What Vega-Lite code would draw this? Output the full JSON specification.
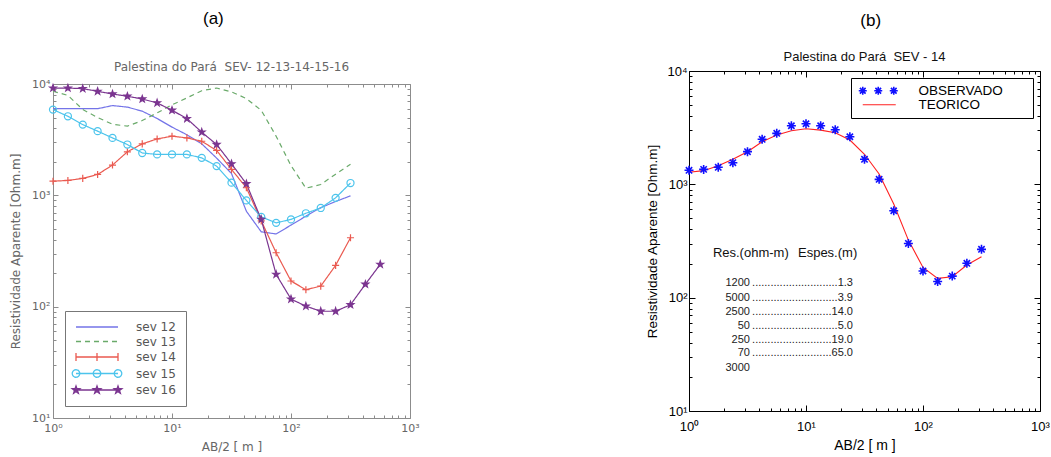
{
  "$schema": "https://vega.github.io/schema/vega-lite/v6.json",
  "background": "white",
  "padding": {"left": 9, "top": 9, "right": 0, "bottom": 0},
  "config": {"view": {"stroke": null}, "font": "Liberation Sans"},
  "spacing": 225,
  "resolve": {"scale": {"color": "independent"}, "legend": {"color": "independent"}},
  "datasets": {
    "sevs": [
      {"serie": "sev 12", "ab2": 1, "rho": 6000}, {"serie": "sev 12", "ab2": 1.334, "rho": 6000}, {"serie": "sev 12", "ab2": 1.778, "rho": 6000}, {"serie": "sev 12", "ab2": 2.371, "rho": 6000}, {"serie": "sev 12", "ab2": 3.162, "rho": 6400}, {"serie": "sev 12", "ab2": 4.217, "rho": 6200}, {"serie": "sev 12", "ab2": 5.623, "rho": 5700}, {"serie": "sev 12", "ab2": 7.499, "rho": 4900}, {"serie": "sev 12", "ab2": 10, "rho": 4100}, {"serie": "sev 12", "ab2": 13.34, "rho": 3500}, {"serie": "sev 12", "ab2": 17.78, "rho": 2900}, {"serie": "sev 12", "ab2": 23.71, "rho": 2160}, {"serie": "sev 12", "ab2": 31.62, "rho": 1570}, {"serie": "sev 12", "ab2": 42.17, "rho": 720}, {"serie": "sev 12", "ab2": 56.23, "rho": 470}, {"serie": "sev 12", "ab2": 74.99, "rho": 450}, {"serie": "sev 12", "ab2": 100, "rho": 540}, {"serie": "sev 12", "ab2": 133.4, "rho": 650}, {"serie": "sev 12", "ab2": 177.8, "rho": 775}, {"serie": "sev 12", "ab2": 237.1, "rho": 880}, {"serie": "sev 12", "ab2": 316.2, "rho": 990},
      {"serie": "sev 13", "ab2": 1, "rho": 8600}, {"serie": "sev 13", "ab2": 1.334, "rho": 7900}, {"serie": "sev 13", "ab2": 1.778, "rho": 5900}, {"serie": "sev 13", "ab2": 2.371, "rho": 5000}, {"serie": "sev 13", "ab2": 3.162, "rho": 4350}, {"serie": "sev 13", "ab2": 4.217, "rho": 4180}, {"serie": "sev 13", "ab2": 5.623, "rho": 4700}, {"serie": "sev 13", "ab2": 7.499, "rho": 5500}, {"serie": "sev 13", "ab2": 10, "rho": 6500}, {"serie": "sev 13", "ab2": 13.34, "rho": 7500}, {"serie": "sev 13", "ab2": 17.78, "rho": 8700}, {"serie": "sev 13", "ab2": 23.71, "rho": 9200}, {"serie": "sev 13", "ab2": 31.62, "rho": 8500}, {"serie": "sev 13", "ab2": 42.17, "rho": 7400}, {"serie": "sev 13", "ab2": 56.23, "rho": 5800}, {"serie": "sev 13", "ab2": 74.99, "rho": 3400}, {"serie": "sev 13", "ab2": 100, "rho": 1850}, {"serie": "sev 13", "ab2": 133.4, "rho": 1160}, {"serie": "sev 13", "ab2": 177.8, "rho": 1250}, {"serie": "sev 13", "ab2": 237.1, "rho": 1550}, {"serie": "sev 13", "ab2": 316.2, "rho": 1900},
      {"serie": "sev 14", "ab2": 1, "rho": 1340}, {"serie": "sev 14", "ab2": 1.334, "rho": 1360}, {"serie": "sev 14", "ab2": 1.778, "rho": 1420}, {"serie": "sev 14", "ab2": 2.371, "rho": 1540}, {"serie": "sev 14", "ab2": 3.162, "rho": 1870}, {"serie": "sev 14", "ab2": 4.217, "rho": 2460}, {"serie": "sev 14", "ab2": 5.623, "rho": 2900}, {"serie": "sev 14", "ab2": 7.499, "rho": 3210}, {"serie": "sev 14", "ab2": 10, "rho": 3400}, {"serie": "sev 14", "ab2": 13.34, "rho": 3280}, {"serie": "sev 14", "ab2": 17.78, "rho": 3060}, {"serie": "sev 14", "ab2": 23.71, "rho": 2530}, {"serie": "sev 14", "ab2": 31.62, "rho": 1710}, {"serie": "sev 14", "ab2": 42.17, "rho": 1170}, {"serie": "sev 14", "ab2": 56.23, "rho": 590}, {"serie": "sev 14", "ab2": 74.99, "rho": 305}, {"serie": "sev 14", "ab2": 100, "rho": 170}, {"serie": "sev 14", "ab2": 133.4, "rho": 142}, {"serie": "sev 14", "ab2": 177.8, "rho": 153}, {"serie": "sev 14", "ab2": 237.1, "rho": 235}, {"serie": "sev 14", "ab2": 316.2, "rho": 416},
      {"serie": "sev 15", "ab2": 1, "rho": 5890}, {"serie": "sev 15", "ab2": 1.334, "rho": 5130}, {"serie": "sev 15", "ab2": 1.778, "rho": 4320}, {"serie": "sev 15", "ab2": 2.371, "rho": 3770}, {"serie": "sev 15", "ab2": 3.162, "rho": 3280}, {"serie": "sev 15", "ab2": 4.217, "rho": 2860}, {"serie": "sev 15", "ab2": 5.623, "rho": 2400}, {"serie": "sev 15", "ab2": 7.499, "rho": 2330}, {"serie": "sev 15", "ab2": 10, "rho": 2330}, {"serie": "sev 15", "ab2": 13.34, "rho": 2330}, {"serie": "sev 15", "ab2": 17.78, "rho": 2170}, {"serie": "sev 15", "ab2": 23.71, "rho": 1830}, {"serie": "sev 15", "ab2": 31.62, "rho": 1300}, {"serie": "sev 15", "ab2": 42.17, "rho": 900}, {"serie": "sev 15", "ab2": 56.23, "rho": 640}, {"serie": "sev 15", "ab2": 74.99, "rho": 566}, {"serie": "sev 15", "ab2": 100, "rho": 608}, {"serie": "sev 15", "ab2": 133.4, "rho": 690}, {"serie": "sev 15", "ab2": 177.8, "rho": 770}, {"serie": "sev 15", "ab2": 237.1, "rho": 950}, {"serie": "sev 15", "ab2": 316.2, "rho": 1290},
      {"serie": "sev 16", "ab2": 1, "rho": 9200}, {"serie": "sev 16", "ab2": 1.334, "rho": 9200}, {"serie": "sev 16", "ab2": 1.778, "rho": 9080}, {"serie": "sev 16", "ab2": 2.371, "rho": 8600}, {"serie": "sev 16", "ab2": 3.162, "rho": 8130}, {"serie": "sev 16", "ab2": 4.217, "rho": 7760}, {"serie": "sev 16", "ab2": 5.623, "rho": 7330}, {"serie": "sev 16", "ab2": 7.499, "rho": 6760}, {"serie": "sev 16", "ab2": 10, "rho": 5810}, {"serie": "sev 16", "ab2": 13.34, "rho": 4890}, {"serie": "sev 16", "ab2": 17.78, "rho": 3690}, {"serie": "sev 16", "ab2": 23.71, "rho": 2860}, {"serie": "sev 16", "ab2": 31.62, "rho": 1920}, {"serie": "sev 16", "ab2": 42.17, "rho": 1270}, {"serie": "sev 16", "ab2": 56.23, "rho": 608}, {"serie": "sev 16", "ab2": 74.99, "rho": 195}, {"serie": "sev 16", "ab2": 100, "rho": 117}, {"serie": "sev 16", "ab2": 133.4, "rho": 101}, {"serie": "sev 16", "ab2": 177.8, "rho": 91}, {"serie": "sev 16", "ab2": 237.1, "rho": 91}, {"serie": "sev 16", "ab2": 316.2, "rho": 104}, {"serie": "sev 16", "ab2": 421.7, "rho": 159}, {"serie": "sev 16", "ab2": 562.3, "rho": 240}
    ],
    "obs": [
      {"tipo": "OBSERVADO", "ab2": 1, "rho": 1330}, {"tipo": "OBSERVADO", "ab2": 1.334, "rho": 1355}, {"tipo": "OBSERVADO", "ab2": 1.778, "rho": 1413}, {"tipo": "OBSERVADO", "ab2": 2.371, "rho": 1552}, {"tipo": "OBSERVADO", "ab2": 3.162, "rho": 1942}, {"tipo": "OBSERVADO", "ab2": 4.217, "rho": 2496}, {"tipo": "OBSERVADO", "ab2": 5.623, "rho": 2818}, {"tipo": "OBSERVADO", "ab2": 7.499, "rho": 3290}, {"tipo": "OBSERVADO", "ab2": 10, "rho": 3427}, {"tipo": "OBSERVADO", "ab2": 13.34, "rho": 3290}, {"tipo": "OBSERVADO", "ab2": 17.78, "rho": 3034}, {"tipo": "OBSERVADO", "ab2": 23.71, "rho": 2630}, {"tipo": "OBSERVADO", "ab2": 31.62, "rho": 1663}, {"tipo": "OBSERVADO", "ab2": 42.17, "rho": 1107}, {"tipo": "OBSERVADO", "ab2": 56.23, "rho": 585}, {"tipo": "OBSERVADO", "ab2": 74.99, "rho": 301}, {"tipo": "OBSERVADO", "ab2": 100, "rho": 172}, {"tipo": "OBSERVADO", "ab2": 133.4, "rho": 139}, {"tipo": "OBSERVADO", "ab2": 177.8, "rho": 155}, {"tipo": "OBSERVADO", "ab2": 237.1, "rho": 201}, {"tipo": "OBSERVADO", "ab2": 316.2, "rho": 267}
    ],
    "teo": [
      {"tipo": "TEORICO", "ab2": 1, "rho": 1277}, {"tipo": "TEORICO", "ab2": 1.334, "rho": 1320}, {"tipo": "TEORICO", "ab2": 1.778, "rho": 1460}, {"tipo": "TEORICO", "ab2": 2.371, "rho": 1663}, {"tipo": "TEORICO", "ab2": 3.162, "rho": 1942}, {"tipo": "TEORICO", "ab2": 4.217, "rho": 2377}, {"tipo": "TEORICO", "ab2": 5.623, "rho": 2723}, {"tipo": "TEORICO", "ab2": 7.499, "rho": 2973}, {"tipo": "TEORICO", "ab2": 10, "rho": 3096}, {"tipo": "TEORICO", "ab2": 13.34, "rho": 3010}, {"tipo": "TEORICO", "ab2": 17.78, "rho": 2857}, {"tipo": "TEORICO", "ab2": 23.71, "rho": 2460}, {"tipo": "TEORICO", "ab2": 31.62, "rho": 1841}, {"tipo": "TEORICO", "ab2": 42.17, "rho": 1234}, {"tipo": "TEORICO", "ab2": 56.23, "rho": 670}, {"tipo": "TEORICO", "ab2": 74.99, "rho": 322}, {"tipo": "TEORICO", "ab2": 100, "rho": 185}, {"tipo": "TEORICO", "ab2": 133.4, "rho": 148}, {"tipo": "TEORICO", "ab2": 177.8, "rho": 153}, {"tipo": "TEORICO", "ab2": 237.1, "rho": 194}, {"tipo": "TEORICO", "ab2": 316.2, "rho": 230}
    ],
    "tabela": [
      {"res": "1200", "esp": "............................1.3", "rho": 133.7},
      {"res": "5000", "esp": "............................3.9", "rho": 99.8},
      {"res": "2500", "esp": "..........................14.0", "rho": 75.1},
      {"res": "50", "esp": "............................5.0", "rho": 56.1},
      {"res": "250", "esp": "..........................19.0", "rho": 42.3},
      {"res": "70", "esp": "..........................65.0", "rho": 32.2},
      {"res": "3000", "esp": "", "rho": 24.0}
    ]
  },
  "hconcat": [
    {
      "title": {"text": "(a)", "font": "Liberation Sans", "fontSize": 17, "fontWeight": "normal", "color": "#000000", "anchor": "middle", "offset": 17, "dx": -1},
      "spacing": 10,
      "vconcat": [
        {"width": 1, "height": 1, "data": {"values": [{"v": 0}]}, "mark": {"type": "point", "opacity": 0}},
        {
          "width": 357,
          "height": 334,
          "title": {"text": "Palestina do Pará\u00a0 SEV- 12-13-14-15-16", "font": "DejaVu Sans", "fontSize": 12, "fontWeight": "normal", "color": "#666666", "offset": 4, "anchor": "middle"},
          "data": {"name": "sevs"},
          "layer": [
            {
              "mark": {"type": "line", "strokeWidth": 1.2},
              "encoding": {
                "x": {"field": "ab2", "type": "quantitative", "scale": {"type": "log", "domain": [1, 1000], "nice": false},
                  "axis": {"orient": "bottom", "values": [1,2,3,4,5,6,7,8,9,10,20,30,40,50,60,70,80,90,100,200,300,400,500,600,700,800,900,1000], "title": "AB/2 [ m ]",
                    "labelExpr": "abs(log(datum.value)/LN10 - round(log(datum.value)/LN10)) < 0.001 ? '10' + ['⁰','¹','²','³','⁴'][round(log(datum.value)/LN10)] : ''",
                    "labelFlush": false, "labelOverlap": false, "grid": false,
                    "tickSize": {"condition": {"test": "abs(log(datum.value)/LN10 - round(log(datum.value)/LN10)) < 0.001", "value": -5}, "value": -3},
                    "labelPadding": 9.5, "domainColor": "#8c8c8c", "tickColor": "#8c8c8c", "labelColor": "#666666", "labelFont": "DejaVu Sans", "labelFontSize": 11,
                    "titleFont": "DejaVu Sans", "titleFontSize": 12, "titleColor": "#666666", "titleFontWeight": "normal", "titlePadding": 6}},
                "y": {"field": "rho", "type": "quantitative", "scale": {"type": "log", "domain": [10, 10000], "nice": false},
                  "axis": {"orient": "left", "values": [10,20,30,40,50,60,70,80,90,100,200,300,400,500,600,700,800,900,1000,2000,3000,4000,5000,6000,7000,8000,9000,10000], "title": "Resistividade Aparente [Ohm.m]",
                    "labelExpr": "abs(log(datum.value)/LN10 - round(log(datum.value)/LN10)) < 0.001 ? '10' + ['⁰','¹','²','³','⁴'][round(log(datum.value)/LN10)] : ''",
                    "labelFlush": false, "labelOverlap": false, "grid": false,
                    "tickSize": {"condition": {"test": "abs(log(datum.value)/LN10 - round(log(datum.value)/LN10)) < 0.001", "value": -5}, "value": -3},
                    "labelPadding": 8, "domainColor": "#8c8c8c", "tickColor": "#8c8c8c", "labelColor": "#666666", "labelFont": "DejaVu Sans", "labelFontSize": 11,
                    "titleFont": "DejaVu Sans", "titleFontSize": 12, "titleColor": "#666666", "titleFontWeight": "normal", "titlePadding": 9}},
                "color": {"field": "serie", "type": "nominal",
                  "scale": {"domain": ["sev 12", "sev 13", "sev 14", "sev 15", "sev 16"], "range": ["#7474e8", "#6aaa6a", "#ea5a50", "#4cc4ec", "#7b3590"]},
                  "legend": {"orient": "bottom-left", "offset": 12, "title": null, "direction": "vertical",
                    "fillColor": "white", "strokeColor": "#777777", "padding": 10, "symbolSize": 100, "labelOffset": 49, "rowPadding": 2.5,
                    "labelFont": "DejaVu Sans", "labelFontSize": 12, "labelColor": "#555555",
                    "encode": {"symbols": {"update": {
                      "shape": {"signal": "datum.value === 'sev 14' ? 'M-1,0H7.4M-1,-0.8V0.8M3.2,-0.8V0.8M7.4,-0.8V0.8' : datum.value === 'sev 15' ? 'M-1,0H7.4M-0.25,0A0.75,0.75 0 1,1 -1.75,0A0.75,0.75 0 1,1 -0.25,0M3.95,0A0.75,0.75 0 1,1 2.45,0A0.75,0.75 0 1,1 3.95,0M8.15,0A0.75,0.75 0 1,1 6.65,0A0.75,0.75 0 1,1 8.15,0' : datum.value === 'sev 16' ? 'M-1,0H7.4M-1,-0.8L-0.812,-0.259L-0.239,-0.247L-0.696,0.099L-0.53,0.647L-1,0.32L-1.47,0.647L-1.304,0.099L-1.761,-0.247L-1.188,-0.259ZM3.2,-0.8L3.388,-0.259L3.961,-0.247L3.504,0.099L3.67,0.647L3.2,0.32L2.73,0.647L2.896,0.099L2.439,-0.247L3.012,-0.259ZM7.4,-0.8L7.588,-0.259L8.161,-0.247L7.704,0.099L7.87,0.647L7.4,0.32L6.93,0.647L7.096,0.099L6.639,-0.247L7.212,-0.259Z' : 'M-1,0H7.4'"},
                      "stroke": {"signal": "datum.value === 'sev 12' ? '#7474e8' : datum.value === 'sev 13' ? '#6aaa6a' : datum.value === 'sev 14' ? '#ea5a50' : datum.value === 'sev 15' ? '#4cc4ec' : '#7b3590'"},
                      "fill": {"signal": "datum.value === 'sev 16' ? '#7b3590' : 'transparent'"},
                      "strokeDash": {"signal": "datum.value === 'sev 13' ? [5, 4] : [1, 0]"},
                      "strokeWidth": {"value": 1.3},
                      "opacity": {"value": 1}
                    }}}}},
                "strokeDash": {"field": "serie", "type": "nominal",
                  "scale": {"domain": ["sev 12", "sev 13", "sev 14", "sev 15", "sev 16"], "range": [[1, 0], [5, 4], [1, 0], [1, 0], [1, 0]]}, "legend": null}
              }
            },
            {
              "transform": [{"filter": {"field": "serie", "oneOf": ["sev 14", "sev 15", "sev 16"]}}],
              "mark": {"type": "point", "size": 50, "strokeWidth": 1.2, "opacity": 1},
              "encoding": {
                "x": {"field": "ab2", "type": "quantitative", "axis": null},
                "y": {"field": "rho", "type": "quantitative", "axis": null},
                "shape": {"field": "serie", "type": "nominal", "scale": {"domain": ["sev 14", "sev 15", "sev 16"], "range": ["M-1,0H1M0,-1V1", "circle", "M0,-1L0.235,-0.324L0.951,-0.309L0.38,0.124L0.588,0.809L0,0.4L-0.588,0.809L-0.38,0.124L-0.951,-0.309L-0.235,-0.324Z"]}, "legend": null},
                "stroke": {"field": "serie", "type": "nominal", "scale": {"domain": ["sev 14", "sev 15", "sev 16"], "range": ["#ea5a50", "#4cc4ec", "#7b3590"]}, "legend": null},
                "fill": {"field": "serie", "type": "nominal", "scale": {"domain": ["sev 14", "sev 15", "sev 16"], "range": ["transparent", "transparent", "#7b3590"]}, "legend": null}
              }
            },
            {
              "mark": {"type": "point", "opacity": 0},
              "encoding": {
                "x": {"field": "ab2", "type": "quantitative",
                  "axis": {"orient": "top", "values": [1,2,3,4,5,6,7,8,9,10,20,30,40,50,60,70,80,90,100,200,300,400,500,600,700,800,900,1000], "labels": false, "title": null, "grid": false,
                    "tickSize": {"condition": {"test": "abs(log(datum.value)/LN10 - round(log(datum.value)/LN10)) < 0.001", "value": -5}, "value": -3},
                    "domainColor": "#8c8c8c", "tickColor": "#8c8c8c"}},
                "y": {"field": "rho", "type": "quantitative",
                  "axis": {"orient": "right", "values": [10,20,30,40,50,60,70,80,90,100,200,300,400,500,600,700,800,900,1000,2000,3000,4000,5000,6000,7000,8000,9000,10000], "labels": false, "title": null, "grid": false,
                    "tickSize": {"condition": {"test": "abs(log(datum.value)/LN10 - round(log(datum.value)/LN10)) < 0.001", "value": -5}, "value": -3},
                    "domainColor": "#8c8c8c", "tickColor": "#8c8c8c"}}
              }
            }
          ],
          "resolve": {"axis": {"x": "independent", "y": "independent"}}
        }
      ],
      "resolve": {"scale": {"color": "independent", "stroke": "independent", "fill": "independent", "shape": "independent", "strokeDash": "independent"}, "legend": {"color": "independent", "stroke": "independent", "fill": "independent", "shape": "independent", "strokeDash": "independent"}}
    },
    {
      "title": {"text": "(b)", "font": "Liberation Sans", "fontSize": 17, "fontWeight": "normal", "color": "#000000", "anchor": "middle", "offset": 15, "dx": 23},
      "spacing": 0,
      "vconcat": [
        {"width": 1, "height": 1, "data": {"values": [{"v": 0}]}, "mark": {"type": "point", "opacity": 0}},
        {
          "width": 351,
          "height": 340,
          "title": {"text": "Palestina do Pará\u00a0 SEV - 14", "font": "Liberation Sans", "fontSize": 13, "fontWeight": "normal", "color": "#111111", "offset": 1, "anchor": "middle"},
          "layer": [
            {
              "data": {"name": "teo"},
              "mark": {"type": "line", "strokeWidth": 1.1},
              "encoding": {
                "x": {"field": "ab2", "type": "quantitative", "scale": {"type": "log", "domain": [1, 1000], "nice": false},
                  "axis": {"orient": "bottom", "values": [1,2,3,4,5,6,7,8,9,10,20,30,40,50,60,70,80,90,100,200,300,400,500,600,700,800,900,1000], "title": "AB/2 [ m ]",
                    "labelExpr": "abs(log(datum.value)/LN10 - round(log(datum.value)/LN10)) < 0.001 ? '10' + ['⁰','¹','²','³','⁴'][round(log(datum.value)/LN10)] : ''",
                    "labelFlush": false, "labelOverlap": false, "grid": false,
                    "tickSize": {"condition": {"test": "abs(log(datum.value)/LN10 - round(log(datum.value)/LN10)) < 0.001", "value": -6}, "value": -3},
                    "labelPadding": 15, "domainColor": "#000000", "tickColor": "#000000", "labelColor": "#000000", "labelFont": "Liberation Sans", "labelFontSize": 13,
                    "titleFont": "Liberation Sans", "titleFontSize": 14, "titleColor": "#000000", "titleFontWeight": "normal", "titlePadding": 2}},
                "y": {"field": "rho", "type": "quantitative", "scale": {"type": "log", "domain": [10, 10000], "nice": false},
                  "axis": {"orient": "left", "values": [10,20,30,40,50,60,70,80,90,100,200,300,400,500,600,700,800,900,1000,2000,3000,4000,5000,6000,7000,8000,9000,10000], "title": "Resistividade Aparente [Ohm.m]",
                    "labelExpr": "abs(log(datum.value)/LN10 - round(log(datum.value)/LN10)) < 0.001 ? '10' + ['⁰','¹','²','³','⁴'][round(log(datum.value)/LN10)] : ''",
                    "labelFlush": false, "labelOverlap": false, "grid": false,
                    "tickSize": {"condition": {"test": "abs(log(datum.value)/LN10 - round(log(datum.value)/LN10)) < 0.001", "value": -6}, "value": -3},
                    "labelPadding": 8, "domainColor": "#000000", "tickColor": "#000000", "labelColor": "#000000", "labelFont": "Liberation Sans", "labelFontSize": 13,
                    "titleFont": "Liberation Sans", "titleFontSize": 13.5, "titleColor": "#000000", "titleFontWeight": "normal", "titlePadding": 7}},
                "color": {"field": "tipo", "type": "nominal",
                  "scale": {"domain": ["OBSERVADO", "TEORICO"], "range": ["#1010ff", "#ff2020"]},
                  "legend": {"orient": "top-right", "offset": 7, "direction": "vertical",
                    "title": "——", "titleOrient": "right", "titleOpacity": 0, "titleFont": "Liberation Sans", "titleFontSize": 12, "titlePadding": 0,
                    "fillColor": "white", "strokeColor": "#000000", "padding": 6, "symbolSize": 100, "labelOffset": 48, "rowPadding": -2,
                    "labelFont": "Liberation Sans", "labelFontSize": 13.5, "labelColor": "#000000",
                    "encode": {"symbols": {"update": {
                      "shape": {"signal": "datum.value === 'OBSERVADO' ? 'M-1,0H0.6M-0.2,-0.8V0.8M-0.77,-0.57L0.37,0.57M-0.77,0.57L0.37,-0.57M2.1,0H3.7M2.9,-0.8V0.8M2.33,-0.57L3.47,0.57M2.33,0.57L3.47,-0.57M5.2,0H6.8M6,-0.8V0.8M5.43,-0.57L6.57,0.57M5.43,0.57L6.57,-0.57' : 'M-0.2,0H6.4'"},
                      "stroke": {"signal": "datum.value === 'OBSERVADO' ? '#1010ff' : '#ff2020'"},
                      "fill": {"value": "transparent"},
                      "strokeWidth": {"signal": "datum.value === 'OBSERVADO' ? 1.6 : 1.1"},
                      "opacity": {"value": 1}
                    }}}}}
              }
            },
            {
              "data": {"name": "obs"},
              "mark": {"type": "point", "shape": "M-1,0H1M0,-1V1M-0.7,-0.7L0.7,0.7M-0.7,0.7L0.7,-0.7", "size": 81, "strokeWidth": 1.6, "opacity": 1, "filled": false},
              "encoding": {
                "x": {"field": "ab2", "type": "quantitative", "axis": null},
                "y": {"field": "rho", "type": "quantitative", "axis": null},
                "color": {"field": "tipo", "type": "nominal"}
              }
            },
            {
              "data": {"name": "tabela"},
              "mark": {"type": "text", "align": "right", "baseline": "middle", "font": "Liberation Sans", "fontSize": 11, "color": "#222222"},
              "encoding": {
                "x": {"datum": 3.32, "type": "quantitative", "axis": null},
                "y": {"field": "rho", "type": "quantitative", "axis": null},
                "text": {"field": "res"}
              }
            },
            {
              "data": {"name": "tabela"},
              "mark": {"type": "text", "align": "right", "baseline": "middle", "font": "Liberation Sans", "fontSize": 11, "color": "#222222"},
              "encoding": {
                "x": {"datum": 25.2, "type": "quantitative", "axis": null},
                "y": {"field": "rho", "type": "quantitative", "axis": null},
                "text": {"field": "esp"}
              }
            },
            {
              "data": {"values": [{"rotulo": "Res.(ohm-m)", "ab2": 1.6, "rho": 248}, {"rotulo": "Espes.(m)", "ab2": 8.54, "rho": 248}]},
              "mark": {"type": "text", "align": "left", "baseline": "middle", "font": "Liberation Sans", "fontSize": 13, "color": "#111111"},
              "encoding": {
                "x": {"field": "ab2", "type": "quantitative", "axis": null},
                "y": {"field": "rho", "type": "quantitative", "axis": null},
                "text": {"field": "rotulo"}
              }
            },
            {
              "data": {"name": "obs"},
              "mark": {"type": "point", "opacity": 0},
              "encoding": {
                "x": {"field": "ab2", "type": "quantitative",
                  "axis": {"orient": "top", "values": [1,2,3,4,5,6,7,8,9,10,20,30,40,50,60,70,80,90,100,200,300,400,500,600,700,800,900,1000], "labels": false, "title": null, "grid": false,
                    "tickSize": {"condition": {"test": "abs(log(datum.value)/LN10 - round(log(datum.value)/LN10)) < 0.001", "value": -6}, "value": -3},
                    "domainColor": "#000000", "tickColor": "#000000"}},
                "y": {"field": "rho", "type": "quantitative",
                  "axis": {"orient": "right", "values": [10,20,30,40,50,60,70,80,90,100,200,300,400,500,600,700,800,900,1000,2000,3000,4000,5000,6000,7000,8000,9000,10000], "labels": false, "title": null, "grid": false,
                    "tickSize": {"condition": {"test": "abs(log(datum.value)/LN10 - round(log(datum.value)/LN10)) < 0.001", "value": -6}, "value": -3},
                    "domainColor": "#000000", "tickColor": "#000000"}}
              }
            }
          ],
          "resolve": {"axis": {"x": "independent", "y": "independent"}}
        }
      ],
      "resolve": {"scale": {"color": "independent"}, "legend": {"color": "independent"}}
    }
  ]
}
